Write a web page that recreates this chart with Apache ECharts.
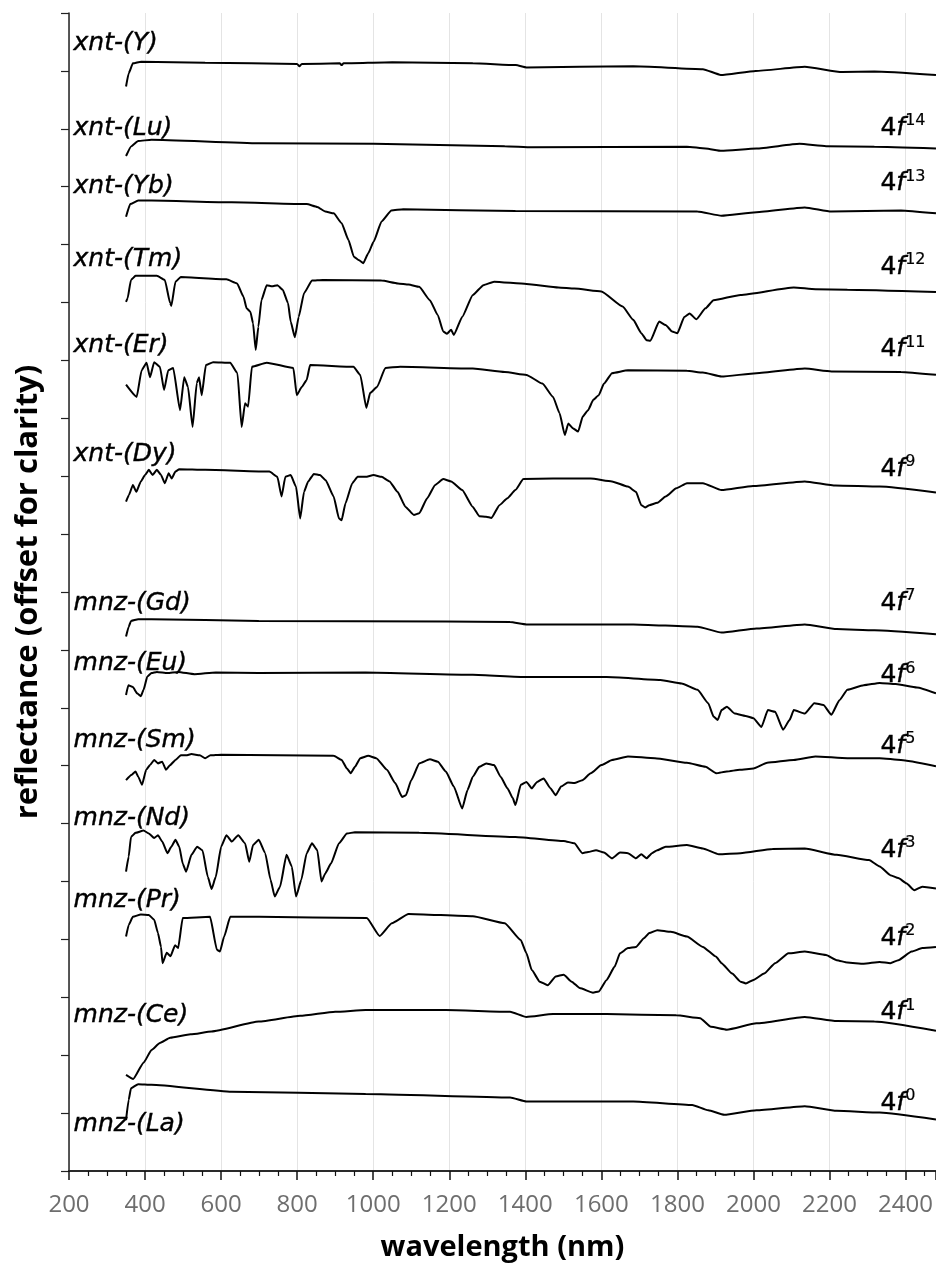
<!DOCTYPE html>
<html>
<head>
<meta charset="utf-8">
<script src="https://cdn.jsdelivr.net/npm/echarts@6/dist/echarts.min.js"></script>
<style>
html,body{margin:0;padding:0;background:#fff;}
#chart{width:936px;height:1273px;}
</style>
</head>
<body>
<div id="chart"></div>
<script>
// x-axis tick labels (nm)
const xTicks = [200,400,600,800,1000,1200,1400,1600,1800,2000,2200,2400];

// spectra: [wavelength nm, reflectance (offset for clarity)]
const xntY = [[350,18.73],[357,18.96],[368,19.13],[390,19.16],[558,19.14],[800,19.12],[806,19.08],[812,19.12],[912,19.13],[917,19.10],[922,19.13],[1050,19.15],[1262,19.13],[1375,19.10],[1403,19.06],[1684,19.08],[1867,19.03],[1914,18.93],[2006,19.00],[2135,19.07],[2233,18.98],[2318,18.99],[2480,18.93]];
const xntLu = [[350,17.53],[364,17.70],[382,17.79],[417,17.81],[698,17.75],[1001,17.74],[1346,17.70],[1417,17.68],[1825,17.69],[1874,17.66],[1916,17.62],[2008,17.66],[2121,17.74],[2191,17.70],[2318,17.69],[2480,17.66]];
const xntYb = [[350,16.48],[361,16.70],[382,16.76],[417,16.76],[628,16.73],[825,16.70],[853,16.65],[874,16.57],[896,16.54],[917,16.37],[935,16.08],[949,15.79],[963,15.73],[974,15.68],[987,15.85],[1001,16.05],[1022,16.40],[1048,16.59],[1079,16.61],[1374,16.58],[1853,16.57],[1916,16.50],[2008,16.56],[2135,16.64],[2205,16.57],[2388,16.59],[2480,16.54]];
const xntTm = [[350,15.01],[354,15.07],[363,15.39],[375,15.46],[431,15.46],[452,15.39],[466,14.99],[469,14.94],[480,15.36],[494,15.44],[614,15.40],[642,15.33],[659,15.10],[667,14.90],[677,14.84],[684,14.64],[691,14.18],[698,14.58],[706,15.04],[720,15.30],[734,15.28],[748,15.30],[762,15.22],[776,14.99],[783,14.67],[794,14.40],[804,14.75],[818,15.16],[839,15.38],[867,15.39],[1022,15.38],[1065,15.33],[1093,15.31],[1121,15.27],[1149,15.04],[1170,14.78],[1184,14.50],[1194,14.46],[1205,14.53],[1212,14.44],[1234,14.75],[1262,15.13],[1290,15.30],[1318,15.36],[1403,15.32],[1487,15.26],[1529,15.24],[1600,15.19],[1656,14.93],[1684,14.70],[1705,14.47],[1719,14.35],[1729,14.34],[1752,14.67],[1769,14.61],[1786,14.50],[1800,14.47],[1818,14.75],[1832,14.81],[1850,14.71],[1874,14.90],[1895,15.04],[1966,15.13],[2106,15.26],[2163,15.23],[2247,15.22],[2480,15.18]];
const xntEr = [[350,13.58],[378,13.37],[391,13.83],[404,13.96],[413,13.71],[424,13.97],[439,13.89],[450,13.49],[461,13.83],[474,13.87],[492,13.14],[503,13.71],[513,13.54],[525,12.85],[536,13.61],[542,13.71],[549,13.40],[560,13.92],[579,13.97],[624,13.96],[643,13.78],[654,12.85],[663,13.26],[671,13.20],[681,13.89],[720,13.96],[790,13.87],[799,13.40],[812,13.54],[825,13.66],[834,13.92],[948,13.89],[966,13.75],[982,13.18],[992,13.44],[1010,13.54],[1032,13.87],[1071,13.89],[1262,13.86],[1346,13.80],[1403,13.75],[1445,13.60],[1473,13.37],[1490,13.09],[1504,12.71],[1513,12.91],[1525,12.83],[1539,12.77],[1551,13.03],[1565,13.14],[1579,13.32],[1593,13.40],[1607,13.60],[1628,13.78],[1670,13.83],[1825,13.82],[1867,13.79],[1916,13.72],[2008,13.78],[2135,13.86],[2205,13.81],[2388,13.80],[2480,13.75]];
const xntDy = [[350,11.56],[358,11.68],[368,11.85],[377,11.73],[389,11.91],[400,12.02],[410,12.11],[420,12.02],[431,12.11],[442,12.02],[452,11.88],[462,12.05],[470,11.96],[480,12.08],[490,12.12],[558,12.11],[727,12.08],[748,11.99],[759,11.65],[769,11.99],[783,12.02],[797,11.82],[808,11.27],[818,11.73],[829,11.91],[844,12.04],[860,12.02],[875,11.93],[896,11.65],[910,11.27],[917,11.24],[927,11.53],[945,11.88],[959,11.99],[980,11.99],[1001,12.02],[1022,11.99],[1043,11.91],[1064,11.73],[1085,11.47],[1107,11.33],[1121,11.36],[1142,11.62],[1163,11.85],[1184,11.95],[1205,11.91],[1234,11.76],[1262,11.47],[1279,11.31],[1297,11.30],[1311,11.28],[1332,11.50],[1353,11.62],[1374,11.76],[1395,11.95],[1473,11.96],[1572,11.96],[1628,11.91],[1670,11.82],[1691,11.73],[1705,11.50],[1715,11.46],[1726,11.50],[1747,11.54],[1769,11.65],[1797,11.79],[1825,11.88],[1867,11.88],[1916,11.76],[1999,11.83],[2135,11.91],[2216,11.84],[2332,11.82],[2480,11.72]];
const mnzGd = [[350,9.23],[357,9.40],[363,9.50],[382,9.53],[417,9.53],[699,9.50],[1191,9.49],[1360,9.48],[1403,9.44],[1684,9.44],[1853,9.40],[1916,9.30],[2008,9.37],[2135,9.44],[2219,9.36],[2318,9.34],[2480,9.27]];
const mnzEu = [[350,8.22],[356,8.39],[368,8.36],[379,8.25],[389,8.20],[396,8.31],[406,8.54],[417,8.60],[431,8.62],[459,8.60],[487,8.62],[530,8.58],[586,8.61],[699,8.60],[980,8.61],[1262,8.57],[1403,8.53],[1614,8.53],[1755,8.48],[1811,8.42],[1853,8.31],[1881,8.08],[1895,7.85],[1906,7.79],[1916,7.96],[1930,8.02],[1951,7.90],[1979,7.86],[2000,7.82],[2021,7.67],[2038,7.96],[2057,7.93],[2078,7.62],[2095,7.79],[2106,7.96],[2135,7.90],[2160,8.08],[2184,8.05],[2205,7.88],[2226,8.13],[2247,8.31],[2290,8.39],[2332,8.43],[2374,8.41],[2430,8.35],[2480,8.25]];
const mnzSm = [[350,6.75],[364,6.84],[375,6.90],[382,6.81],[392,6.67],[403,6.93],[413,7.01],[424,7.10],[434,7.04],[445,7.07],[455,6.93],[466,7.01],[480,7.10],[494,7.18],[508,7.18],[522,7.20],[544,7.18],[558,7.13],[572,7.18],[600,7.19],[896,7.17],[917,7.10],[931,6.95],[941,6.87],[952,6.98],[966,7.13],[987,7.17],[1008,7.13],[1036,6.93],[1058,6.70],[1076,6.46],[1086,6.49],[1100,6.75],[1121,7.04],[1149,7.11],[1170,7.07],[1191,6.90],[1212,6.64],[1234,6.26],[1248,6.58],[1262,6.81],[1279,6.98],[1297,7.04],[1318,7.01],[1335,6.81],[1353,6.61],[1367,6.44],[1374,6.32],[1388,6.67],[1403,6.72],[1417,6.61],[1431,6.72],[1448,6.78],[1466,6.61],[1480,6.49],[1494,6.64],[1512,6.71],[1529,6.70],[1550,6.75],[1572,6.87],[1600,7.01],[1628,7.10],[1670,7.16],[1741,7.13],[1825,7.05],[1874,6.98],[1902,6.87],[1930,6.90],[1964,6.93],[2000,6.95],[2036,7.05],[2106,7.10],[2163,7.16],[2247,7.13],[2332,7.13],[2388,7.10],[2480,6.99]];
const mnzNd = [[350,5.17],[357,5.43],[363,5.77],[375,5.84],[396,5.88],[410,5.83],[424,5.75],[434,5.80],[445,5.69],[459,5.49],[469,5.60],[480,5.72],[490,5.60],[499,5.31],[508,5.17],[522,5.46],[537,5.60],[551,5.54],[565,5.08],[575,4.87],[586,5.08],[600,5.60],[614,5.80],[628,5.69],[645,5.80],[663,5.66],[674,5.34],[684,5.63],[699,5.72],[716,5.49],[730,5.03],[741,4.74],[755,4.91],[772,5.46],[786,5.26],[797,4.74],[811,5.03],[825,5.49],[839,5.66],[853,5.54],[864,5.00],[874,5.14],[889,5.31],[910,5.66],[931,5.83],[952,5.85],[1121,5.84],[1374,5.77],[1501,5.70],[1529,5.66],[1550,5.49],[1565,5.51],[1586,5.54],[1607,5.50],[1628,5.40],[1649,5.50],[1670,5.49],[1691,5.40],[1705,5.47],[1719,5.40],[1733,5.49],[1747,5.54],[1769,5.60],[1825,5.63],[1867,5.57],[1909,5.47],[1966,5.49],[2050,5.56],[2135,5.57],[2219,5.46],[2304,5.37],[2332,5.26],[2360,5.11],[2381,5.06],[2402,4.97],[2423,4.85],[2444,4.91],[2480,4.88]];
const mnzPr = [[350,4.05],[357,4.25],[368,4.39],[389,4.43],[410,4.42],[424,4.34],[434,4.11],[442,3.87],[446,3.59],[457,3.77],[467,3.71],[479,3.90],[487,3.85],[499,4.37],[571,4.39],[589,3.82],[597,3.79],[608,4.05],[624,4.39],[700,4.39],[983,4.37],[1017,4.06],[1049,4.28],[1093,4.44],[1262,4.40],[1346,4.28],[1388,3.99],[1403,3.76],[1417,3.47],[1438,3.27],[1459,3.21],[1480,3.36],[1501,3.39],[1522,3.27],[1543,3.16],[1578,3.08],[1593,3.10],[1614,3.30],[1635,3.53],[1649,3.76],[1670,3.85],[1691,3.87],[1712,4.02],[1726,4.11],[1747,4.16],[1783,4.13],[1825,4.05],[1867,3.87],[1902,3.70],[1916,3.59],[1944,3.41],[1966,3.27],[1980,3.24],[2000,3.30],[2028,3.41],[2057,3.59],[2092,3.76],[2135,3.79],[2191,3.73],[2219,3.64],[2247,3.60],[2290,3.58],[2332,3.61],[2360,3.59],[2381,3.64],[2416,3.79],[2444,3.85],[2480,3.87]];
const mnzCe = [[350,1.66],[369,1.59],[396,1.87],[417,2.09],[439,2.21],[466,2.30],[520,2.36],[575,2.41],[699,2.58],[808,2.68],[900,2.75],[980,2.78],[1191,2.78],[1360,2.75],[1403,2.66],[1473,2.71],[1614,2.71],[1797,2.69],[1860,2.64],[1888,2.49],[1930,2.44],[2008,2.55],[2135,2.66],[2219,2.59],[2318,2.58],[2480,2.42]];
const mnzLa = [[350,0.88],[357,1.23],[363,1.43],[382,1.50],[417,1.49],[628,1.37],[980,1.33],[1360,1.27],[1403,1.20],[1684,1.20],[1839,1.14],[1881,1.05],[1923,0.97],[2008,1.05],[2135,1.12],[2219,1.04],[2332,1.01],[2480,0.89]];

// sample names (left) and their label heights
const sampleNames = ['xnt-(Y)','xnt-(Lu)','xnt-(Yb)','xnt-(Tm)','xnt-(Er)','xnt-(Dy)','mnz-(Gd)','mnz-(Eu)','mnz-(Sm)','mnz-(Nd)','mnz-(Pr)','mnz-(Ce)','mnz-(La)'];
const sampleLabelY = [19.48,18.01,17.01,15.75,14.25,12.37,9.81,8.76,7.43,6.08,4.68,2.69,0.81];
const sampleSpectra = [xntY,xntLu,xntYb,xntTm,xntEr,xntDy,mnzGd,mnzEu,mnzSm,mnzNd,mnzPr,mnzCe,mnzLa];

// electron configuration labels (right): superscript exponent and label height
const configExp = ['14','13','12','11','9','7','6','5','3','2','1','0'];
const configLabelY = [18.01,17.05,15.61,14.18,12.12,9.81,8.55,7.34,5.54,4.02,2.73,1.17];

const chart = echarts.init(document.getElementById('chart'));

const lineSeries = sampleSpectra.map((d, i) => ({
  name: sampleNames[i],
  type: 'line',
  data: d,
  showSymbol: false,
  symbol: 'none',
  smooth: 0.15,
  smoothMonotone: 'x',
  lineStyle: { color: '#000', width: 2 },
  silent: true,
  z: 3
}));

const labelText = { color: '#000', textBorderColor: '#000', textBorderWidth: 0.4, opacity: 1 };

const option = {
  animation: false,
  backgroundColor: '#fff',
  grid: { left: 69, right: 0, top: 13, bottom: 102, containLabel: false },
  xAxis: [{
    type: 'value',
    min: 200, max: 2480, interval: 200,
    name: 'wavelength (nm)',
    nameLocation: 'middle',
    nameGap: 62,
    nameTextStyle: { fontFamily: 'Open Sans', fontWeight: 'bold', fontSize: 29, color: '#000' },
    axisLine: { show: true, onZero: false, lineStyle: { color: '#111', width: 2 } },
    axisTick: { show: true, inside: false, length: 9, lineStyle: { color: '#111', width: 1.5 } },
    minorTick: { show: true, splitNumber: 4, length: 5, lineStyle: { color: '#111', width: 1.2 } },
    axisLabel: {
      show: true, margin: 22, color: '#6e6e6e', fontSize: 24, fontFamily: 'Open Sans',
      showMaxLabel: false,
      formatter: v => (xTicks.indexOf(v) >= 0 ? String(v) : '')
    },
    splitLine: { show: true, lineStyle: { color: '#e4e4e4', width: 1 } }
  }, {
    type: 'value', position: 'top', min: 200, max: 2480,
    axisLine: { show: true, lineStyle: { color: '#333', width: 1.5 } },
    axisTick: { show: false }, axisLabel: { show: false }, splitLine: { show: false }
  }],
  yAxis: {
    type: 'value',
    min: 0, max: 20, interval: 1,
    name: 'reflectance (offset for clarity)',
    nameLocation: 'middle',
    nameGap: 25,
    nameTextStyle: { fontFamily: 'Open Sans', fontWeight: 'bold', fontSize: 31, color: '#000' },
    axisLine: { show: true, onZero: false, lineStyle: { color: '#222', width: 1.5 } },
    axisTick: { show: true, inside: false, length: 8, lineStyle: { color: '#222', width: 1.2 } },
    axisLabel: { show: false },
    splitLine: { show: false }
  },
  series: lineSeries.concat([
    {
      name: 'sample labels',
      type: 'scatter',
      symbolSize: 0,
      itemStyle: { color: '#000', opacity: 1 },
      silent: true,
      data: sampleNames.map((n, i) => ({ name: n, value: [212, sampleLabelY[i]] })),
      label: Object.assign({
        show: true, position: 'right', distance: 0,
        formatter: p => p.name,
        fontFamily: 'DejaVu Sans', fontStyle: 'italic', fontSize: 25
      }, labelText),
      z: 5
    },
    {
      name: 'config labels',
      type: 'scatter',
      symbolSize: 0,
      itemStyle: { color: '#000', opacity: 1 },
      silent: true,
      data: configExp.map((e, i) => ({ name: e, value: [2334, configLabelY[i]] })),
      label: {
        show: true, position: 'right', distance: 0,
        formatter: p => '{n|4}{f|f}{s|' + p.name + '}',
        rich: {
          n: Object.assign({ fontFamily: 'DejaVu Sans', fontSize: 25, lineHeight: 30 }, labelText),
          f: Object.assign({ fontFamily: 'DejaVu Sans', fontStyle: 'italic', fontSize: 25, lineHeight: 30 }, labelText),
          s: Object.assign({ fontFamily: 'DejaVu Sans', fontSize: 16, verticalAlign: 'top', lineHeight: 18 }, labelText, { textBorderWidth: 0.2 })
        }
      },
      z: 5
    }
  ])
};

chart.setOption(option);
</script>
</body>
</html>
